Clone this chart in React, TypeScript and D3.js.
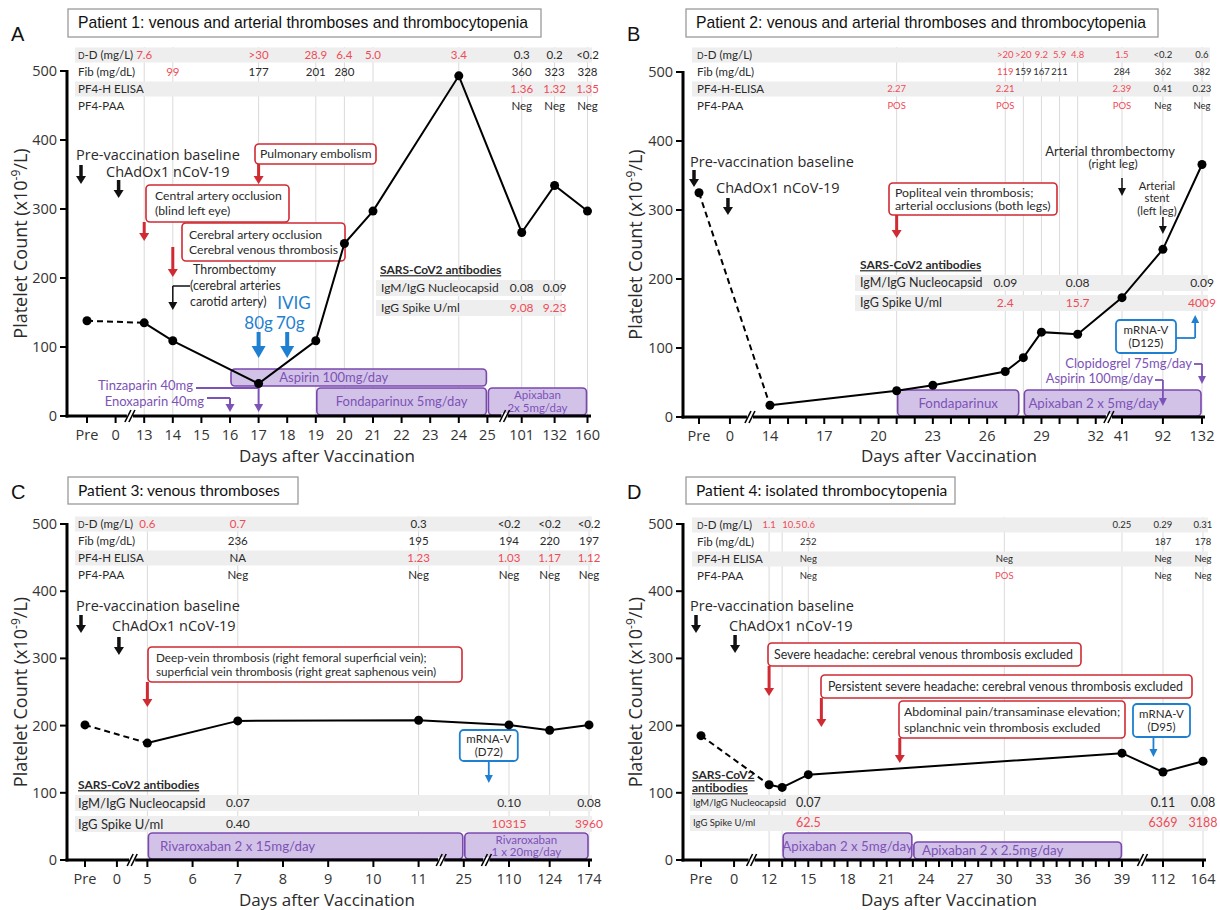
import React from "react";
import * as d3 from "d3";

type Cell = { d: number; v: string; hi?: boolean; align?: string };
type Bar = { from: number; to: number; label: string; lane: number; dx?: number };

const FONT_UI = "'Open Sans', 'DejaVu Sans', sans-serif";
const FONT_C = "Lato, 'Open Sans', sans-serif";
const FONT_ARIAL = "'Liberation Sans', Arial, sans-serif";
const RED_TXT = "#ef4b57";
const RED = "#d02a33";
const BLUE = "#1f7fd0";
const PURPLE = "#7d52b6";
const PURPLE_FILL = "#d2c2e8";
const PURPLE_STROKE = "#7a48ad";
const TXT = "#2a2a2a";
const BAND = "#eeeeee";
const GRID = "#dadada";

// ================= Panel A =================
const aAxisDays = [-1, 0, 13, 14, 15, 16, 17, 18, 19, 20, 21, 22, 23, 24, 25, 101, 132, 160];
const aLabelDays = [-1, 0, 13, 14, 15, 16, 17, 18, 19, 20, 21, 22, 23, 24, 25, 101, 132, 160];
const aScaleDays = [-1, 0, 13, 25, 101, 132, 160];
const aScaleSlots = [0, 1, 2, 14, 15.2, 16.35, 17.5];
const aBreakDays = [6.5, 63];
const aPltDays = [-1, 13, 14, 17, 19, 20, 21, 24, 101, 132, 160];
const aPlt = [138, 135, 109, 47, 109, 250, 297, 493, 266, 334, 297];
const aGridDays = [13, 14, 17, 19, 20, 21, 24, 101, 132, 160];
const aDDimer: Cell[] = [
  { d: 13, v: "7.6", hi: true }, { d: 17, v: ">30", hi: true }, { d: 19, v: "28.9", hi: true },
  { d: 20, v: "6.4", hi: true }, { d: 21, v: "5.0", hi: true }, { d: 24, v: "3.4", hi: true },
  { d: 101, v: "0.3" }, { d: 132, v: "0.2" }, { d: 160, v: "<0.2" },
];
const aFib: Cell[] = [
  { d: 14, v: "99", hi: true }, { d: 17, v: "177" }, { d: 19, v: "201" }, { d: 20, v: "280" },
  { d: 101, v: "360" }, { d: 132, v: "323" }, { d: 160, v: "328" },
];
const aElisa: Cell[] = [{ d: 101, v: "1.36", hi: true }, { d: 132, v: "1.32", hi: true }, { d: 160, v: "1.35", hi: true }];
const aPaa: Cell[] = [{ d: 101, v: "Neg" }, { d: 132, v: "Neg" }, { d: 160, v: "Neg" }];
const aNucleo: Cell[] = [{ d: 101, v: "0.08" }, { d: 132, v: "0.09" }];
const aSpike: Cell[] = [{ d: 101, v: "9.08", hi: true }, { d: 132, v: "9.23", hi: true }];
const aBars: Bar[] = [
  { from: 16, to: 25, label: "Aspirin 100mg/day", lane: 0, dx: -25 },
  { from: 19, to: 25, label: "Fondaparinux 5mg/day", lane: 1 },
  { from: 25, to: 160, label: "Apixaban\n2x 5mg/day", lane: 1 },
];

// ================= Panel B =================
const bAxisDays = [-1, 0, 14, 15, 16, 17, 18, 19, 20, 21, 22, 23, 24, 25, 26, 27, 28, 29, 30, 31, 32, 41, 92, 132];
const bLabelDays = [-1, 0, 14, 17, 20, 23, 26, 29, 32, 41, 92, 132];
const bScaleDays = [-1, 0, 14, 32, 41, 92, 132];
const bScaleSlots = [0, 1.71, 3.92, 21.92, 23.37, 25.63, 27.79];
const bBreakDays = [7, 36.5];
const bPltDays = [-1, 14, 21, 23, 27, 28, 29, 31, 41, 92, 132];
const bPlt = [325, 17, 38, 46, 66, 86, 123, 120, 173, 243, 366];
const bGridDays = [21, 27, 28, 29, 30, 31, 41, 92, 132];
const bDDimer: Cell[] = [
  { d: 27, v: ">20", hi: true }, { d: 28, v: ">20", hi: true }, { d: 29, v: "9.2", hi: true },
  { d: 30, v: "5.9", hi: true }, { d: 31, v: "4.8", hi: true }, { d: 41, v: "1.5", hi: true },
  { d: 92, v: "<0.2" }, { d: 132, v: "0.6" },
];
const bFib: Cell[] = [
  { d: 27, v: "119", hi: true }, { d: 28, v: "159" }, { d: 29, v: "167" }, { d: 30, v: "211" },
  { d: 41, v: "284" }, { d: 92, v: "362" }, { d: 132, v: "382" },
];
const bElisa: Cell[] = [
  { d: 21, v: "2.27", hi: true }, { d: 27, v: "2.21", hi: true }, { d: 41, v: "2.39", hi: true },
  { d: 92, v: "0.41" }, { d: 132, v: "0.23" },
];
const bPaa: Cell[] = [
  { d: 21, v: "POS", hi: true }, { d: 27, v: "POS", hi: true }, { d: 41, v: "POS", hi: true },
  { d: 92, v: "Neg" }, { d: 132, v: "Neg" },
];
const bNucleo: Cell[] = [{ d: 27, v: "0.09" }, { d: 31, v: "0.08" }, { d: 132, v: "0.09" }];
const bSpike: Cell[] = [{ d: 27, v: "2.4", hi: true }, { d: 31, v: "15.7", hi: true }, { d: 132, v: "4009", hi: true }];
const bBars: Bar[] = [
  { from: 21, to: 27.8, label: "Fondaparinux", lane: 0 },
  { from: 28, to: 132, label: "Apixaban 2 x 5mg/day", lane: 0, dx: -19 },
];

// ================= Panel C =================
const cAxisDays = [-1, 0, 5, 6, 7, 8, 9, 10, 11, 25, 110, 124, 174];
const cLabelDays = [-1, 0, 5, 6, 7, 8, 9, 10, 11, 25, 110, 124, 174];
const cScaleDays = [-1, 0, 5, 11, 25, 110, 124, 174];
const cScaleSlots = [0, 0.706, 1.38, 7.38, 8.38, 9.38, 10.28, 11.15];
const cBreakDays = [2.5, 18, 67.5];
const cPltDays = [-1, 5, 7, 11, 110, 124, 174];
const cPlt = [201, 174, 207, 208, 201, 193, 201];
const cGridDays = [5, 7, 11, 110, 124, 174];
const cDDimer: Cell[] = [
  { d: 5, v: "0.6", hi: true }, { d: 7, v: "0.7", hi: true }, { d: 11, v: "0.3" },
  { d: 110, v: "<0.2" }, { d: 124, v: "<0.2" }, { d: 174, v: "<0.2" },
];
const cFib: Cell[] = [{ d: 7, v: "236" }, { d: 11, v: "195" }, { d: 110, v: "194" }, { d: 124, v: "220" }, { d: 174, v: "197" }];
const cElisa: Cell[] = [
  { d: 7, v: "NA" }, { d: 11, v: "1.23", hi: true }, { d: 110, v: "1.03", hi: true },
  { d: 124, v: "1.17", hi: true }, { d: 174, v: "1.12", hi: true },
];
const cPaa: Cell[] = [{ d: 7, v: "Neg" }, { d: 11, v: "Neg" }, { d: 110, v: "Neg" }, { d: 124, v: "Neg" }, { d: 174, v: "Neg" }];
const cNucleo: Cell[] = [{ d: 7, v: "0.07" }, { d: 110, v: "0.10" }, { d: 174, v: "0.08" }];
const cSpike: Cell[] = [{ d: 7, v: "0.40" }, { d: 110, v: "10315", hi: true }, { d: 174, v: "3960", hi: true }];
const cBars: Bar[] = [
  { from: 5, to: 25, label: "Rivaroxaban 2 x 15mg/day", lane: 0, dx: -68 },
  { from: 25, to: 174, label: "Rivaroxaban\n1 x 20mg/day", lane: 0 },
];

// ================= Panel D =================
const dAxisDays = [-1, 0, 12, 13, 14, 15, 16, 17, 18, 19, 20, 21, 22, 23, 24, 25, 26, 27, 28, 29, 30, 31, 32, 33, 34, 35, 36, 37, 38, 39, 112, 164];
const dLabelDays = [-1, 0, 12, 15, 18, 21, 24, 27, 30, 33, 36, 39, 112, 164];
const dScaleDays = [-1, 0, 12, 39, 112, 164];
const dScaleSlots = [0, 2.53, 5.21, 32.21, 35.35, 38.41];
const dBreakDays = [6, 75.5];
const dPltDays = [-1, 12, 13, 15, 39, 112, 164];
const dPlt = [185, 112, 108, 127, 159, 131, 147];
const dGridDays = [12, 13, 15, 30, 39, 112, 164];
const dDDimer: Cell[] = [
  { d: 12, v: "1.1", hi: true }, { d: 13, v: "10.5", hi: true, align: "start" }, { d: 15, v: "0.6", hi: true },
  { d: 39, v: "0.25" }, { d: 112, v: "0.29" }, { d: 164, v: "0.31" },
];
const dFib: Cell[] = [{ d: 15, v: "252" }, { d: 112, v: "187" }, { d: 164, v: "178" }];
const dElisa: Cell[] = [{ d: 15, v: "Neg" }, { d: 30, v: "Neg" }, { d: 112, v: "Neg" }, { d: 164, v: "Neg" }];
const dPaa: Cell[] = [{ d: 15, v: "Neg" }, { d: 30, v: "POS", hi: true }, { d: 112, v: "Neg" }, { d: 164, v: "Neg" }];
const dNucleo: Cell[] = [{ d: 15, v: "0.07" }, { d: 112, v: "0.11" }, { d: 164, v: "0.08" }];
const dSpike: Cell[] = [{ d: 15, v: "62.5", hi: true }, { d: 112, v: "6369", hi: true }, { d: 164, v: "3188", hi: true }];
const dBars: Bar[] = [
  { from: 13, to: 23, label: "Apixaban 2 x 5mg/day", lane: 0 },
  { from: 23, to: 39.8, label: "Apixaban 2 x 2.5mg/day", lane: 1, dx: -25 },
];

const yTicks = [0, 100, 200, 300, 400, 500];

// ================= helpers =================
function VArrow({ x, y1, y2, color, w = 3, hw = 5, hl = 8 }: any) {
  const dir = y2 > y1 ? 1 : -1;
  const yb = y2 - dir * hl;
  return (
    <g>
      <line x1={x} x2={x} y1={y1} y2={yb} stroke={color} strokeWidth={w} />
      <path d={`M${x - hw},${yb}L${x + hw},${yb}L${x},${y2}Z`} fill={color} />
    </g>
  );
}

function TBox({ x, y, w, h, lines, stroke, fs = 12, color = TXT, align = "start", pad = 8, lh = 14, font = FONT_C, sw = 1.6 }: any) {
  const n = lines.length;
  const cy = y + h / 2;
  const tx = align === "middle" ? x + w / 2 : x + pad;
  return (
    <g>
      <rect x={x} y={y} width={w} height={h} rx={4} fill="#fff" stroke={stroke} strokeWidth={sw} />
      {lines.map((s: string, i: number) => (
        <text key={i} x={tx} y={cy + (i - (n - 1) / 2) * lh} dy="0.35em" fontSize={fs} fontFamily={font} fill={color} textAnchor={align}>
          {s}
        </text>
      ))}
    </g>
  );
}

function T({ x, y, s, fs = 14.5, font = FONT_UI, color = TXT, anchor = "start", weight = "normal", deco }: any) {
  return (
    <text x={x} y={y} dy="0.35em" fontSize={fs} fontFamily={font} fill={color} textAnchor={anchor} fontWeight={weight} textDecoration={deco}>
      {s}
    </text>
  );
}

function rowLabel(s: string) {
  if (s.startsWith("D-D")) {
    return (
      <>
        <tspan fontSize="0.75em">D</tspan>
        {s.slice(1)}
      </>
    );
  }
  return s;
}

function Panel({ cfg }: any) {
  const slot = d3.scaleLinear().domain(cfg.scaleDays).range(cfg.scaleSlots);
  const maxSlot = cfg.scaleSlots[cfg.scaleSlots.length - 1];
  const xs = d3.scaleLinear().domain([0, maxSlot]).range([cfg.xFirst, cfg.xLast]);
  const x = (d: number) => xs(slot(d));
  const y = d3.scaleLinear().domain([0, 500]).range([cfg.y0, cfg.y500]);
  const line = d3.line<[number, number]>().x((p) => x(p[0])).y((p) => y(p[1]));
  const pts: [number, number][] = cfg.pltDays.map((d: number, i: number) => [d, cfg.plt[i]]);
  const dashed = line(pts.slice(0, 2)) || "";
  const solid = line(pts.slice(1)) || "";
  const [tbx, tby, tbw, tbh] = cfg.titleBox;
  const ab = cfg.ab;
  const yMid = (cfg.y0 + cfg.y500) / 2;

  return (
    <g>
      {/* letter + title */}
      <text x={cfg.letterX} y={cfg.letterY} fontSize={20} fontFamily={FONT_ARIAL} fill="#111">{cfg.letter}</text>
      <rect x={tbx} y={tby} width={tbw} height={tbh} fill="#fff" stroke="#9a9a9a" strokeWidth={1.3} />
      <text x={tbx + 10} y={tby + tbh / 2} dy="0.35em" fontSize={cfg.titleSize} fontFamily={cfg.titleFont} fill="#111">{cfg.title}</text>

      {/* grid */}
      {cfg.grid.map((d: number) => (
        <line key={"g" + d} x1={x(d)} x2={x(d)} y1={cfg.gridTop} y2={cfg.y0} stroke={GRID} strokeWidth={1} />
      ))}

      {/* table */}
      {cfg.rowY.map((ry: number, i: number) =>
        i % 2 === 0 ? (
          <rect key={"b" + i} x={cfg.bandX[0]} y={ry - cfg.bandH / 2} width={cfg.bandX[1] - cfg.bandX[0]} height={cfg.bandH} fill={BAND} />
        ) : null
      )}
      {cfg.rows.map((r: any, i: number) => (
        <g key={"r" + i}>
          <text x={cfg.rowLabelX} y={cfg.rowY[i]} dy="0.35em" fontSize={cfg.rowLabelSize} fontFamily={FONT_C} fill={TXT}>{rowLabel(r.label)}</text>
          {r.cells.map((c: Cell, j: number) => (
            <text key={j} x={x(c.d)} y={cfg.rowY[i]} dy="0.35em" fontSize={cfg.cellSize} fontFamily={FONT_C} fill={c.hi ? RED_TXT : TXT} textAnchor={c.align || "middle"}>{c.v}</text>
          ))}
        </g>
      ))}

      {/* antibodies */}
      {ab.rowY.map((ry: number, i: number) => (
        <rect key={"ab" + i} x={ab.bandX[0]} y={ry - 8} width={ab.bandX[1] - ab.bandX[0]} height={16} fill={BAND} />
      ))}
      {ab.title.map((s: string, i: number) => (
        <T key={"at" + i} x={ab.titleX} y={ab.titleY + i * ab.lh} s={s} fs={ab.titleSize} font={FONT_C} weight="bold" deco="underline" />
      ))}
      <T x={ab.labelX} y={ab.rowY[0]} s="IgM/IgG Nucleocapsid" fs={ab.labelSize} font={FONT_C} />
      <T x={ab.labelX} y={ab.rowY[1]} s="IgG Spike U/ml" fs={ab.labelSize} font={FONT_C} />
      {ab.nucleo.map((c: Cell, j: number) => (
        <T key={"n" + j} x={x(c.d)} y={ab.rowY[0]} s={c.v} fs={ab.valueSize} font={FONT_C} anchor="middle" color={c.hi ? RED_TXT : TXT} />
      ))}
      {ab.spike.map((c: Cell, j: number) => (
        <T key={"s" + j} x={x(c.d)} y={ab.rowY[1]} s={c.v} fs={ab.valueSize} font={FONT_C} anchor="middle" color={c.hi ? RED_TXT : TXT} />
      ))}

      {/* treatment bars */}
      {cfg.bars.map((b: Bar, i: number) => {
        const [t, bt] = cfg.lanes[b.lane];
        const x0 = x(b.from) + 1;
        const x1 = x(b.to) - 1;
        const lines = b.label.split("\n");
        const multi = lines.length > 1;
        const cx = (x0 + x1) / 2 + (b.dx || 0);
        const cy = (t + bt) / 2;
        return (
          <g key={"bar" + i}>
            <rect x={x0} y={t} width={x1 - x0} height={bt - t} rx={4} fill={PURPLE_FILL} stroke={PURPLE_STROKE} strokeWidth={1.6} />
            {lines.map((s, k) => (
              <T key={k} x={cx} y={cy + (k - (lines.length - 1) / 2) * 12.5} s={s} fs={multi ? 11.5 : cfg.barSize} font={FONT_C} color={PURPLE} anchor="middle" />
            ))}
          </g>
        );
      })}

      {/* annotations */}
      {cfg.annotate(x, y)}

      {/* y axis */}
      <line x1={cfg.axisX} x2={cfg.axisX} y1={y(500) - 1} y2={cfg.y0 + 1.5} stroke="#000" strokeWidth={3} />
      {yTicks.map((v) => (
        <g key={"yt" + v}>
          <line x1={cfg.axisX - 7} x2={cfg.axisX} y1={y(v)} y2={y(v)} stroke="#000" strokeWidth={2} />
          <T x={cfg.axisX - 10} y={y(v)} s={String(v)} fs={14.5} anchor="end" color="#333" />
        </g>
      ))}
      <text transform={`translate(${cfg.yLabelX},${yMid}) rotate(-90)`} textAnchor="middle" dy="0.35em" fontSize={18} fontFamily={FONT_UI} fill={TXT}>
        Platelet Count (x10<tspan dy={-7} fontSize={12}>-9</tspan>
        <tspan dy={7}>/L)</tspan>
      </text>

      {/* x axis */}
      <line x1={cfg.axisX - 1.5} x2={cfg.xEnd} y1={cfg.y0} y2={cfg.y0} stroke="#000" strokeWidth={3} />
      {cfg.axisDays.map((d: number) => (
        <line key={"xt" + d} x1={x(d)} x2={x(d)} y1={cfg.y0} y2={cfg.y0 + 7} stroke="#000" strokeWidth={2} />
      ))}
      {cfg.labelDays.map((d: number) => (
        <T key={"xl" + d} x={x(d)} y={cfg.y0 + 18.5} s={d === -1 ? "Pre" : String(d)} fs={14.5} anchor="middle" color="#333" />
      ))}
      {cfg.breaks.map((d: number) => {
        const bx = x(d);
        const by = cfg.y0;
        return (
          <g key={"br" + d}>
            <rect x={bx - 3} y={by - 3} width={6} height={6} fill="#fff" />
            <line x1={bx - 5} x2={bx + 1} y1={by + 6} y2={by - 6} stroke="#000" strokeWidth={1.6} />
            <line x1={bx - 1} x2={bx + 5} y1={by + 6} y2={by - 6} stroke="#000" strokeWidth={1.6} />
          </g>
        );
      })}
      <T x={cfg.xLabelX} y={cfg.xLabelY} s="Days after Vaccination" fs={17} anchor="middle" color={TXT} />

      {/* platelet line */}
      <path d={dashed} fill="none" stroke="#000" strokeWidth={2} strokeDasharray="6,4" />
      <path d={solid} fill="none" stroke="#000" strokeWidth={2} />
      {pts.map((p, i) => (
        <circle key={"p" + i} cx={x(p[0])} cy={y(p[1])} r={4.5} fill="#000" />
      ))}
    </g>
  );
}

// ================= panel configs =================
const panelA = {
  letter: "A", letterX: 11, letterY: 41,
  title: "Patient 1: venous and arterial thromboses and thrombocytopenia",
  titleBox: [68, 9, 473, 28], titleFont: FONT_ARIAL, titleSize: 15.7,
  axisX: 67, y0: 416, y500: 71, xFirst: 87, xLast: 587.5, xEnd: 591,
  axisDays: aAxisDays, labelDays: aLabelDays, scaleDays: aScaleDays, scaleSlots: aScaleSlots, breaks: aBreakDays,
  pltDays: aPltDays, plt: aPlt,
  rows: [
    { label: "D-D (mg/L)", cells: aDDimer },
    { label: "Fib (mg/dL)", cells: aFib },
    { label: "PF4-H ELISA", cells: aElisa },
    { label: "PF4-PAA", cells: aPaa },
  ],
  rowY: [55, 72, 89, 106], rowLabelX: 78, rowLabelSize: 11.5, cellSize: 11.5, bandX: [75, 592], bandH: 15, gridTop: 47, grid: aGridDays,
  ab: { title: ["SARS-CoV2 antibodies"], titleX: 380, titleY: 270, lh: 14, titleSize: 12, rowY: [288, 308], labelX: 381, bandX: [376, 562], labelSize: 12, valueSize: 12, nucleo: aNucleo, spike: aSpike },
  bars: aBars, lanes: [[369, 386], [388, 415]], barSize: 13,
  yLabelX: 21, xLabelX: 327, xLabelY: 456,
  annotate: (x: any, y: any) => (
    <g>
      <T x={76} y={155} s="Pre-vaccination baseline" fs={14.5} />
      <VArrow x={x(-1) - 6} y1={165} y2={184} color="#111" w={3.5} hw={5} hl={8} />
      <T x={106} y={172} s="ChAdOx1 nCoV-19" fs={14.5} />
      <VArrow x={x(0) + 3} y1={180} y2={198} color="#111" w={3.5} hw={5} hl={8} />
      <TBox x={255} y={144} w={121} h={20} lines={["Pulmonary embolism"]} stroke={RED} fs={12.2} pad={5} />
      <VArrow x={x(17)} y1={164} y2={184} color={RED} w={3} hw={5} hl={8} />
      <TBox x={146} y={185} w={143} h={37} lines={["Central artery occlusion", "(blind left eye)"]} stroke={RED} fs={12.2} pad={9} lh={15} />
      <VArrow x={x(13)} y1={222} y2={241} color={RED} w={3} hw={5} hl={8} />
      <TBox x={182} y={223} w={163} h={38} lines={["Cerebral artery occlusion", "Cerebral venous thrombosis"]} stroke={RED} fs={12.2} pad={7} lh={15} />
      <VArrow x={x(14)} y1={247} y2={277} color={RED} w={3} hw={5} hl={8} />
      <T x={193} y={270} s="Thrombectomy" fs={12.4} font={FONT_C} />
      <T x={190} y={286} s="(cerebral arteries" fs={12.4} font={FONT_C} />
      <T x={190} y={302} s="carotid artery)" fs={12.4} font={FONT_C} />
      <line x1={x(14)} x2={190} y1={286} y2={286} stroke="#111" strokeWidth={1.5} />
      <VArrow x={x(14)} y1={286} y2={310} color="#111" w={1.5} hw={4.5} hl={8} />
      <T x={294} y={303} s="IVIG" fs={17} font={FONT_C} color={BLUE} anchor="middle" />
      <T x={x(17)} y={323} s="80g" fs={17} font={FONT_C} color={BLUE} anchor="middle" />
      <T x={x(18) + 3} y={323} s="70g" fs={17} font={FONT_C} color={BLUE} anchor="middle" />
      <VArrow x={x(17)} y1={332} y2={358} color={BLUE} w={4} hw={7} hl={12} />
      <VArrow x={x(18)} y1={332} y2={358} color={BLUE} w={4} hw={7} hl={12} />
      <T x={193} y={385} s="Tinzaparin 40mg" fs={13} font={FONT_C} color={PURPLE} anchor="end" />
      <line x1={196} x2={x(17)} y1={388} y2={388} stroke={PURPLE} strokeWidth={2} />
      <VArrow x={x(17)} y1={388} y2={412} color={PURPLE} w={2} hw={4.5} hl={8} />
      <T x={204} y={401} s="Enoxaparin 40mg" fs={13} font={FONT_C} color={PURPLE} anchor="end" />
      <line x1={207} x2={x(16)} y1={398} y2={398} stroke={PURPLE} strokeWidth={2} />
      <VArrow x={x(16)} y1={398} y2={412} color={PURPLE} w={2} hw={4.5} hl={8} />
    </g>
  ),
};

const panelB = {
  letter: "B", letterX: 627, letterY: 41,
  title: "Patient 2: venous and arterial thromboses and thrombocytopenia",
  titleBox: [686, 9, 472, 28], titleFont: FONT_ARIAL, titleSize: 15.7,
  axisX: 683, y0: 417, y500: 72, xFirst: 699, xLast: 1202, xEnd: 1205,
  axisDays: bAxisDays, labelDays: bLabelDays, scaleDays: bScaleDays, scaleSlots: bScaleSlots, breaks: bBreakDays,
  pltDays: bPltDays, plt: bPlt,
  rows: [
    { label: "D-D (mg/L)", cells: bDDimer },
    { label: "Fib (mg/dL)", cells: bFib },
    { label: "PF4-H-ELISA", cells: bElisa },
    { label: "PF4-PAA", cells: bPaa },
  ],
  rowY: [55, 72, 89, 106], rowLabelX: 697, rowLabelSize: 11.5, cellSize: 9.5, bandX: [692, 1210], bandH: 15, gridTop: 47, grid: bGridDays,
  ab: { title: ["SARS-CoV2 antibodies"], titleX: 860, titleY: 265, lh: 14, titleSize: 12, rowY: [283, 303], labelX: 860, bandX: [855, 1208], labelSize: 12.5, valueSize: 12, nucleo: bNucleo, spike: bSpike },
  bars: bBars, lanes: [[390, 416]], barSize: 13.3,
  yLabelX: 636, xLabelX: 949, xLabelY: 456,
  annotate: (x: any, y: any) => (
    <g>
      <T x={690} y={162} s="Pre-vaccination baseline" fs={14.5} />
      <VArrow x={x(-1) - 5} y1={170} y2={187} color="#111" w={3.5} hw={5} hl={8} />
      <T x={716} y={188} s="ChAdOx1 nCoV-19" fs={14.5} />
      <VArrow x={x(0) - 2} y1={198} y2={215} color="#111" w={3.5} hw={5} hl={8} />
      <TBox x={889} y={183} w={168} h={32} lines={["Popliteal vein thrombosis;", "arterial occlusions (both legs)"]} stroke={RED} fs={12.3} pad={6} lh={13.5} />
      <VArrow x={x(21)} y1={215} y2={238} color={RED} w={3} hw={5} hl={8} />
      <T x={1110} y={151} s="Arterial thrombectomy" fs={13} font={FONT_C} anchor="middle" />
      <T x={1113} y={164} s="(right leg)" fs={12} font={FONT_C} anchor="middle" />
      <VArrow x={x(41)} y1={178} y2={196} color="#111" w={1.5} hw={4} hl={8} />
      <T x={1157} y={186} s="Arterial" fs={11.2} font={FONT_C} anchor="middle" />
      <T x={1157} y={198.5} s="stent" fs={11.2} font={FONT_C} anchor="middle" />
      <T x={1157} y={211} s="(left leg)" fs={11.2} font={FONT_C} anchor="middle" />
      <VArrow x={x(92)} y1={217} y2={234} color="#111" w={1.5} hw={4} hl={8} />
      <TBox x={1116} y={320} w={60} h={33} lines={["mRNA-V", "(D125)"]} stroke={BLUE} fs={11.5} align="middle" lh={13} sw={1.8} />
      <line x1={1176} x2={x(125)} y1={338} y2={338} stroke={BLUE} strokeWidth={1.8} />
      <VArrow x={x(125)} y1={338} y2={315} color={BLUE} w={1.8} hw={4} hl={8} />
      <T x={1192} y={363} s="Clopidogrel 75mg/day" fs={13} font={FONT_C} color={PURPLE} anchor="end" />
      <line x1={1194} x2={x(132)} y1={364} y2={364} stroke={PURPLE} strokeWidth={1.8} />
      <VArrow x={x(132)} y1={364} y2={384} color={PURPLE} w={1.8} hw={4} hl={8} />
      <T x={1153} y={379} s="Aspirin 100mg/day" fs={12.8} font={FONT_C} color={PURPLE} anchor="end" />
      <line x1={1155} x2={x(92)} y1={380} y2={380} stroke={PURPLE} strokeWidth={1.8} />
      <VArrow x={x(92)} y1={380} y2={406} color={PURPLE} w={1.8} hw={4} hl={8} />
    </g>
  ),
};

const panelC = {
  letter: "C", letterX: 11, letterY: 499,
  title: "Patient 3: venous thromboses",
  titleBox: [68, 477, 230, 27], titleFont: FONT_C, titleSize: 15.5,
  axisX: 67, y0: 860, y500: 524, xFirst: 85, xLast: 589, xEnd: 592,
  axisDays: cAxisDays, labelDays: cLabelDays, scaleDays: cScaleDays, scaleSlots: cScaleSlots, breaks: cBreakDays,
  pltDays: cPltDays, plt: cPlt,
  rows: [
    { label: "D-D (mg/L)", cells: cDDimer },
    { label: "Fib (mg/dL)", cells: cFib },
    { label: "PF4-H ELISA", cells: cElisa },
    { label: "PF4-PAA", cells: cPaa },
  ],
  rowY: [524, 541, 558, 575], rowLabelX: 78, rowLabelSize: 11.5, cellSize: 11.5, bandX: [75, 592], bandH: 15, gridTop: 516, grid: cGridDays,
  ab: { title: ["SARS-CoV2 antibodies"], titleX: 78, titleY: 785, lh: 14, titleSize: 12, rowY: [803, 824], labelX: 78, bandX: [75, 592], labelSize: 13, valueSize: 12, nucleo: cNucleo, spike: cSpike },
  bars: cBars, lanes: [[833, 859]], barSize: 13.3,
  yLabelX: 21, xLabelX: 327, xLabelY: 900,
  annotate: (x: any, y: any) => (
    <g>
      <T x={76} y={606} s="Pre-vaccination baseline" fs={14.5} />
      <VArrow x={x(-1) - 4} y1={615} y2={633} color="#111" w={3.5} hw={5} hl={8} />
      <T x={112} y={626} s="ChAdOx1 nCoV-19" fs={14.5} />
      <VArrow x={x(0) + 2} y1={637} y2={655} color="#111" w={3.5} hw={5} hl={8} />
      <TBox x={148} y={647} w={314} h={35} lines={["Deep-vein thrombosis (right femoral superficial vein);", "superficial vein thrombosis (right great saphenous vein)"]} stroke={RED} fs={11.7} pad={8} lh={14} />
      <VArrow x={x(5)} y1={682} y2={707} color={RED} w={3} hw={5} hl={8} />
      <TBox x={x(72) - 29} y={730} w={58} h={31} lines={["mRNA-V", "(D72)"]} stroke={BLUE} fs={11.5} align="middle" lh={13} sw={1.8} />
      <VArrow x={x(72)} y1={761} y2={783} color={BLUE} w={1.8} hw={4} hl={8} />
    </g>
  ),
};

const panelD = {
  letter: "D", letterX: 627, letterY: 499,
  title: "Patient 4: isolated thrombocytopenia",
  titleBox: [686, 477, 269, 27], titleFont: FONT_C, titleSize: 15.5,
  axisX: 683, y0: 860, y500: 524, xFirst: 701, xLast: 1203, xEnd: 1206,
  axisDays: dAxisDays, labelDays: dLabelDays, scaleDays: dScaleDays, scaleSlots: dScaleSlots, breaks: dBreakDays,
  pltDays: dPltDays, plt: dPlt,
  rows: [
    { label: "D-D (mg/L)", cells: dDDimer },
    { label: "Fib (mg/dL)", cells: dFib },
    { label: "PF4-H ELISA", cells: dElisa },
    { label: "PF4-PAA", cells: dPaa },
  ],
  rowY: [525, 542, 559, 576], rowLabelX: 697, rowLabelSize: 11.5, cellSize: 9.5, bandX: [692, 1208], bandH: 15, gridTop: 517, grid: dGridDays,
  ab: { title: ["SARS-CoV2", "antibodies"], titleX: 692, titleY: 775, lh: 13, titleSize: 12, rowY: [803, 823], labelX: 693, bandX: [690, 1208], labelSize: 9.5, valueSize: 12.5, nucleo: dNucleo, spike: dSpike },
  bars: dBars, lanes: [[833, 859], [842, 859]], barSize: 13.3,
  yLabelX: 636, xLabelX: 949, xLabelY: 900,
  annotate: (x: any, y: any) => (
    <g>
      <T x={690} y={606} s="Pre-vaccination baseline" fs={14.5} />
      <VArrow x={x(-1) - 5} y1={615} y2={633} color="#111" w={3.5} hw={5} hl={8} />
      <T x={729} y={626} s="ChAdOx1 nCoV-19" fs={14.5} />
      <VArrow x={x(0) + 1} y1={635} y2={653} color="#111" w={3.5} hw={5} hl={8} />
      <TBox x={768} y={643} w={313} h={23} lines={["Severe headache: cerebral venous thrombosis excluded"]} stroke={RED} fs={12.4} pad={6} />
      <VArrow x={x(12)} y1={666} y2={696} color={RED} w={3} hw={5} hl={8} />
      <TBox x={821} y={675} w={371} h={23} lines={["Persistent severe headache: cerebral venous thrombosis excluded"]} stroke={RED} fs={12.4} pad={7} />
      <VArrow x={x(16)} y1={698} y2={727} color={RED} w={3} hw={5} hl={8} />
      <TBox x={899} y={701} w={226} h={37} lines={["Abdominal pain/transaminase elevation;", "splanchnic vein thrombosis excluded"]} stroke={RED} fs={12.3} pad={5} lh={15.5} />
      <VArrow x={x(22)} y1={738} y2={763} color={RED} w={3} hw={5} hl={8} />
      <TBox x={1133} y={704} w={57} h={33} lines={["mRNA-V", "(D95)"]} stroke={BLUE} fs={11.5} align="middle" lh={13} sw={1.8} />
      <VArrow x={x(95)} y1={737} y2={757} color={BLUE} w={1.8} hw={4} hl={8} />
    </g>
  ),
};

export default function App() {
  return (
    <div style={{ position: "absolute", left: 0, top: 0 }}>
      <svg width={1220} height={910} viewBox="0 0 1220 910" style={{ display: "block", background: "#fff" }}>
        <rect x={0} y={0} width={1220} height={910} fill="#fff" />
        <Panel cfg={panelA} />
        <Panel cfg={panelB} />
        <Panel cfg={panelC} />
        <Panel cfg={panelD} />
      </svg>
    </div>
  );
}
